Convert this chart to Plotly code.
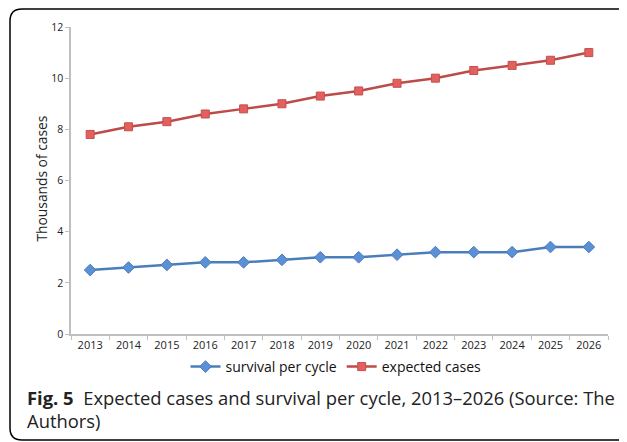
import plotly.graph_objects as go

years = [str(y) for y in range(2013, 2027)]
survival = [2.5, 2.6, 2.7, 2.8, 2.8, 2.9, 3.0, 3.0, 3.1, 3.2, 3.2, 3.2, 3.4, 3.4]
expected = [7.8, 8.1, 8.3, 8.6, 8.8, 9.0, 9.3, 9.5, 9.8, 10.0, 10.3, 10.5, 10.7, 11.0]
y_ticks = [0, 2, 4, 6, 8, 10, 12]

OFF = 8  # page body margin
W, H = 627 - OFF, 442 - OFF
L, R, T, B = 71 - OFF, 19, 27 - OFF, 108
PW, PH = W - L - R, H - T - B

def px(x):  # screen x -> paper
    return (x - OFF - L) / PW

def py(y):  # screen y -> paper
    return (H - B - (y - OFF)) / PH

fig = go.Figure()
fig.add_trace(go.Scatter(
    x=years, y=survival, name="survival per cycle", mode="lines+markers",
    line=dict(color="#4A7EBB", width=2.5),
    marker=dict(symbol="diamond", size=9, color="#5B8FD6", line=dict(color="#4A7EBB", width=1)),
))
fig.add_trace(go.Scatter(
    x=years, y=expected, name="expected cases", mode="lines+markers",
    line=dict(color="#BE4B48", width=2.5),
    marker=dict(symbol="square", size=8, color="#E4605E", line=dict(color="#C0504D", width=1)),
))

# rounded border
r = 12
x0, x1, y0, y1 = 10, 650, 9, 440
path = (
    f"M {px(x1)},{py(y0)} L {px(x0 + r)},{py(y0)} "
    f"Q {px(x0)},{py(y0)} {px(x0)},{py(y0 + r)} "
    f"L {px(x0)},{py(y1 - r)} Q {px(x0)},{py(y1)} {px(x0 + r)},{py(y1)} "
    f"L {px(x1)},{py(y1)}"
)
fig.add_shape(type="path", xref="paper", yref="paper", path=path,
              line=dict(color="black", width=1.5))

fig.add_annotation(
    xref="paper", yref="paper", x=px(40.5), y=py(179), xanchor="center", yanchor="middle",
    text="Thousands of cases", textangle=-90, showarrow=False,
    font=dict(family="Open Sans", size=13.8, color="#222"),
)
fig.add_annotation(
    xref="paper", yref="paper", x=px(25), y=py(397), xanchor="left", yanchor="middle",
    align="left", showarrow=False,
    text="<b>Fig. 5</b>  Expected cases and survival per cycle, 2013–2026 (Source: The",
    font=dict(family="Open Sans", size=18.4, color="#222"),
)
fig.add_annotation(
    xref="paper", yref="paper", x=px(25), y=py(420), xanchor="left", yanchor="middle",
    align="left", showarrow=False, text="Authors)",
    font=dict(family="Open Sans", size=18.4, color="#222"),
)

fig.update_layout(
    width=W, height=H, margin=dict(l=L, r=R, t=T, b=B, autoexpand=False),
    paper_bgcolor="white", plot_bgcolor="white",
    showlegend=True,
    legend=dict(orientation="h", x=px(336), y=py(367), xanchor="center", yanchor="middle",
                font=dict(family="Open Sans", size=14, color="#111"), itemwidth=30,
                tracegroupgap=0),
    xaxis=dict(type="category", range=[-0.5, len(years) - 0.5], showgrid=False, showline=True,
               linecolor="#BFBFBF", linewidth=1.5,
               ticks="outside", tickson="boundaries", ticklen=4, tickcolor="#BFBFBF",
               tickfont=dict(family="Open Sans", size=11, color="#222"), fixedrange=True),
    yaxis=dict(range=[0, 12], tickvals=y_ticks, showgrid=False, showline=True, linecolor="#BFBFBF",
               linewidth=1.5, ticks="outside", ticklen=4, tickcolor="#BFBFBF", zeroline=False,
               tickfont=dict(family="Open Sans", size=10.5, color="#222"), fixedrange=True),
)

fig.write_html("out.html")
